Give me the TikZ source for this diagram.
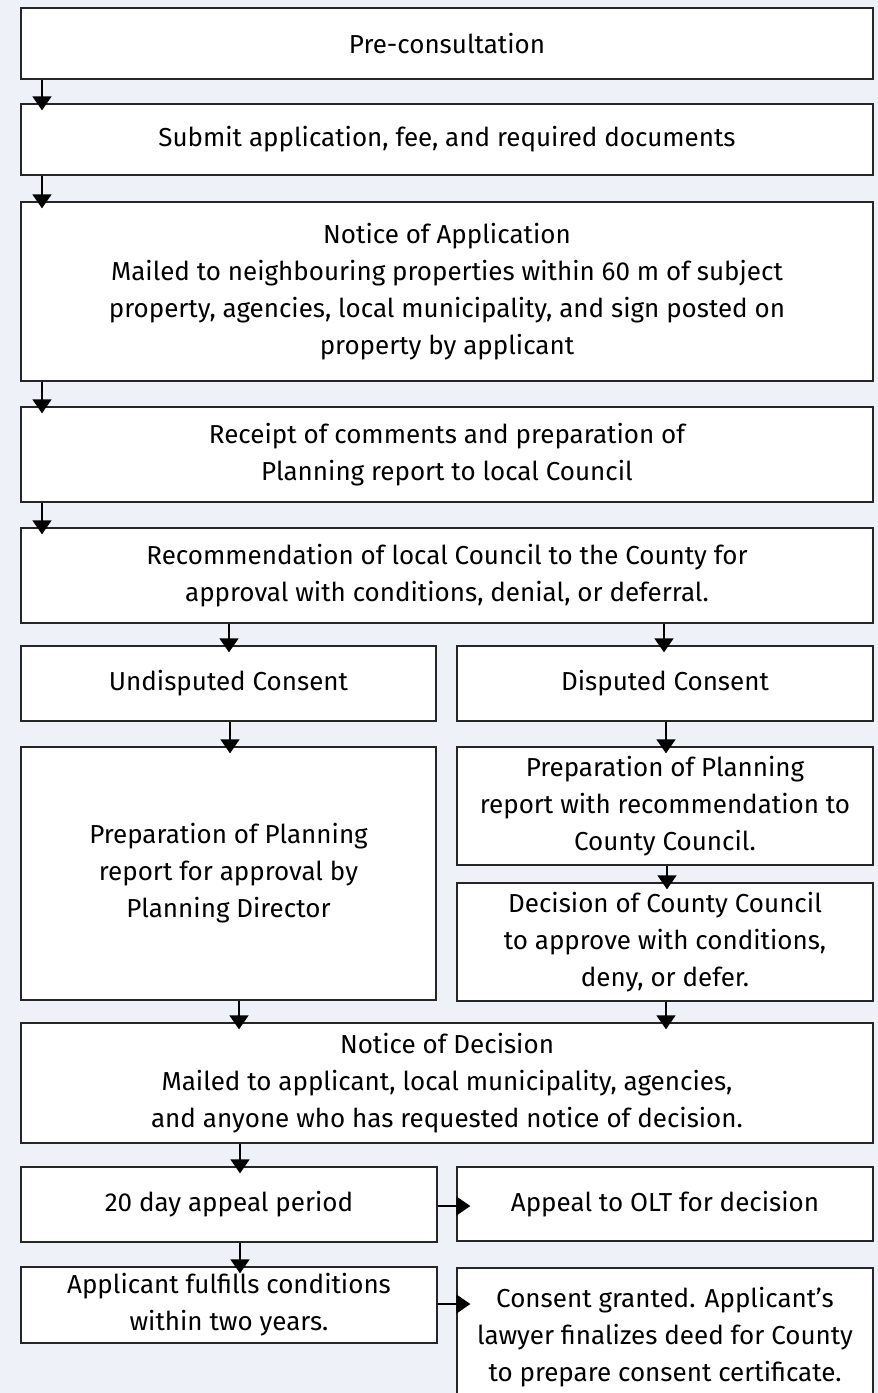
\documentclass[tikz,border=0pt]{standalone}
\usepackage{fontspec}
\setmainfont{Fira Sans}
\usetikzlibrary{arrows.meta}
\definecolor{bgc}{RGB}{238,241,247}
\tikzset{
  box/.style={draw=black!85, line width=1.3pt, fill=white, align=center, inner sep=0pt,
    font=\fontsize{26}{37}\selectfont},
  flow/.style={line width=1.3pt, -{Triangle[length=14pt,width=19pt]}},
}
\begin{document}
\begin{tikzpicture}[x=1pt,y=-1pt]
\fill[bgc] (0,0) rectangle (878,1393);
\useasboundingbox (0,0) rectangle (878,1393);
\begin{scope}
\clip (0,0) rectangle (878,1393);
\node[box, minimum width=852, minimum height=71] (n1) at (447,43.5) {Pre-consultation};
\node[box, minimum width=852, minimum height=71] (n2) at (447,139.5) {Submit application, fee, and required documents};
\node[box, minimum width=852, minimum height=179] (n3) at (447,291.5) {Notice of Application\\Mailed to neighbouring properties within 60 m of subject\\property, agencies, local municipality, and sign posted on\\property by applicant};
\node[box, minimum width=852, minimum height=95] (n4) at (447,454.5) {Receipt of comments and preparation of\\Planning report to local Council};
\node[box, minimum width=852, minimum height=95] (n5) at (447,575.5) {Recommendation of local Council to the County for\\approval with conditions, denial, or deferral.};
\node[box, minimum width=415, minimum height=75] (u1) at (228.5,683.5) {Undisputed Consent};
\node[box, minimum width=416, minimum height=75] (d1) at (665,683.5) {Disputed Consent};
\node[box, minimum width=415, minimum height=253] (u2) at (228.5,873.5) {Preparation of Planning\\report for approval by\\Planning Director};
\node[box, minimum width=416, minimum height=118] (d2) at (665,806) {Preparation of Planning\\report with recommendation to\\County Council.};
\node[box, minimum width=416, minimum height=118] (d3) at (665,942) {Decision of County Council\\to approve with conditions,\\deny, or defer.};
\node[box, minimum width=852, minimum height=120] (n6) at (447,1083) {Notice of Decision\\Mailed to applicant, local municipality, agencies,\\and anyone who has requested notice of decision.};
\node[box, minimum width=416, minimum height=75] (a1) at (229,1204.5) {20 day appeal period};
\node[box, minimum width=416, minimum height=74] (a2) at (665,1204) {Appeal to OLT for decision};
\node[box, minimum width=416, minimum height=76] (b1) at (229,1305) {Applicant fulfills conditions\\within two years.};
\node[box, minimum width=416, minimum height=138] (b2) at (665,1337) {Consent granted. Applicant’s\\lawyer finalizes deed for County\\to prepare consent certificate.};
\end{scope}
\coordinate (c12) at (42,111);
\draw[flow] (n1.south -| c12) -- ([yshift=-7pt]n2.north -| c12);
\draw[flow] (n2.south -| c12) -- ([yshift=-7pt]n3.north -| c12);
\draw[flow] (n3.south -| c12) -- ([yshift=-7pt]n4.north -| c12);
\draw[flow] (n4.south -| c12) -- ([yshift=-7pt]n5.north -| c12);
\coordinate (xu) at (229,0);
\coordinate (xd) at (664,0);
\draw[flow] (n5.south -| xu) -- ([yshift=-7pt]u1.north -| xu);
\draw[flow] (n5.south -| xd) -- ([yshift=-7pt]d1.north -| xd);
\coordinate (xu2) at (230,0);
\coordinate (xd2) at (666,0);
\draw[flow] (u1.south -| xu2) -- ([yshift=-7pt]u2.north -| xu2);
\draw[flow] (d1.south -| xd2) -- ([yshift=-7pt]d2.north -| xd2);
\coordinate (xd3) at (667,0);
\draw[flow] (d2.south -| xd3) -- ([yshift=-7pt]d3.north -| xd3);
\coordinate (xu3) at (239,0);
\draw[flow] (u2.south -| xu3) -- ([yshift=-7pt]n6.north -| xu3);
\draw[flow] (d3.south -| xd2) -- ([yshift=-7pt]n6.north -| xd2);
\coordinate (xa) at (240,0);
\draw[flow] (n6.south -| xa) -- ([yshift=-7pt]a1.north -| xa);
\draw[flow] (a1.south -| xa) -- ([yshift=-7pt]b1.north -| xa);
\coordinate (ya) at (0,1206);
\coordinate (yb) at (0,1304);
\draw[flow] (a1.east |- ya) -- ([xshift=14pt]a2.west |- ya);
\draw[flow] (b1.east |- yb) -- ([xshift=14pt]b2.west |- yb);
\end{tikzpicture}
\end{document}
